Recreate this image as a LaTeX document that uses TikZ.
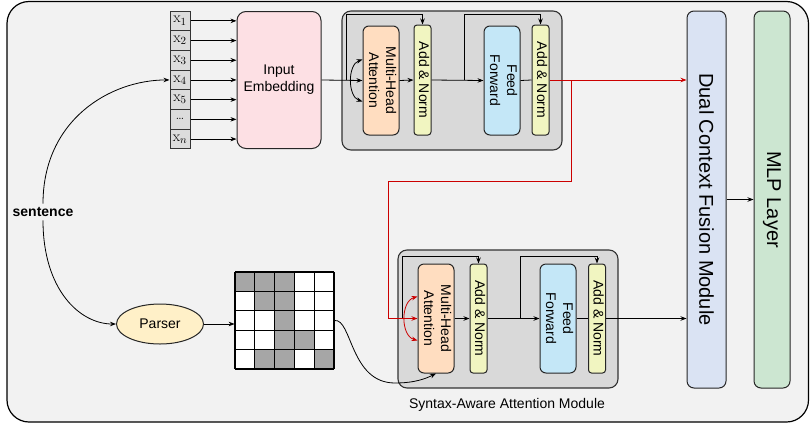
\documentclass[tikz,border=0pt]{standalone}
\usepackage{graphicx}
\usepackage{fontspec}
\newfontfamily\lsans{Liberation Sans}
\usetikzlibrary{arrows.meta,shapes.geometric,calc}

\definecolor{bgc}{HTML}{F2F2F2}
\definecolor{blockgray}{HTML}{D9D9D9}
\definecolor{tokgray}{HTML}{DCDCDC}
\definecolor{pinkc}{HTML}{FDE0E4}
\definecolor{peachc}{HTML}{FFDDC0}
\definecolor{ylwc}{HTML}{F1F5C1}
\definecolor{skyc}{HTML}{C4E7F7}
\definecolor{dcfc}{HTML}{DAE3F3}
\definecolor{mlpc}{HTML}{CCE6D1}
\definecolor{parserc}{HTML}{FFF0C8}
\definecolor{redc}{HTML}{CC0000}
\definecolor{cellgray}{HTML}{A6A6A6}

% rotated (top-to-bottom) text for the tall boxes
\newcommand\vtext[1]{\rotatebox{-90}{\begin{tabular}{@{}c@{}}#1\end{tabular}}}

\begin{document}
\begin{tikzpicture}[x=1pt,y=-1pt,
  >={Stealth[length=6pt,width=4.5pt]},
  every path/.style={line width=0.8pt},
  box/.style={draw=black!85, line width=1pt, rounded corners=6pt, inner sep=0pt,
    align=center, font=\lsans\fontsize{14}{17}\selectfont},
  thinbox/.style={box, rounded corners=3pt, fill=ylwc, minimum width=17, minimum height=110},
  gblock/.style={draw=black!80, fill=blockgray, line width=1.1pt, rounded corners=9pt, inner sep=0pt},
  tok/.style={draw=black!80, fill=tokgray, line width=1pt, minimum width=20,
    minimum height=19.7, inner sep=0pt, font=\fontsize{15}{15}\selectfont},
  cell/.style={fill=cellgray},
  lbl/.style={font=\lsans\fontsize{14}{17}\selectfont},
  rline/.style={draw=redc}]

\useasboundingbox (0,0) rectangle (810,426);
\draw[fill=bgc, line width=1.2pt, rounded corners=22pt] (7,1.5) rectangle (808.5,422);

% ---- input tokens ----
\foreach \i/\lab in {1/{$\mathrm{x}_1$},2/{$\mathrm{x}_2$},3/{$\mathrm{x}_3$},4/{$\mathrm{x}_4$},
                     5/{$\mathrm{x}_5$},6/{\dots},7/{$\mathrm{x}_n$}}
  \node[tok] (x\i) at (180,{11+19.7*(\i-0.5)}) {\lab};

\node[box, fill=pinkc, rounded corners=9pt, minimum width=84, minimum height=137] (ie) at (279,80) {Input\\Embedding};
\foreach \i in {1,...,7} \draw[->] (x\i.east) -- (x\i.east -| ie.west);

% ---- transformer encoder ----
\node[gblock, minimum width=220, minimum height=139] (enc) at (452,80.5) {};
\node[box, fill=peachc, minimum width=36, minimum height=109] (mha1) at (381,80.5) {\vtext{Multi-Head\\Attention}};
\node[thinbox] (an1a) at (422.5,80) {\vtext{Add \& Norm}};
\node[box, fill=skyc, minimum width=36, minimum height=109] (ff1) at (502,80.5) {\vtext{Feed\\Forward}};
\node[thinbox] (an1b) at (540.5,80) {\vtext{Add \& Norm}};

\coordinate (s1) at (346,80);
\coordinate (s2) at (464,80);
\draw[->] (ie.east) -- (mha1.west);
\draw[<->] ($(mha1.west)+(0,-21)$) .. controls +(-15,5) and +(-15,-5) .. ($(mha1.west)+(0,21)$);
\draw[->] (s1) |- ($(an1a.north)+(0,-10)$) -- (an1a.north);
\draw[->] (mha1.east) -- (an1a.west);
\draw[->] (an1a.east) -- (ff1.west);
\draw[->] (s2) |- ($(an1b.north)+(0,-10)$) -- (an1b.north);
\draw (ff1.east) -- (an1b.west);

% ---- fusion and output ----
\node[box, fill=dcfc, rounded corners=7pt, minimum width=39, minimum height=377] (dcf) at (706.5,199.5)
  {\rotatebox{-90}{\fontsize{20}{24}\selectfont Dual Context Fusion Module}};
\node[box, fill=mlpc, rounded corners=7pt, minimum width=36, minimum height=377] (mlp) at (772,199.5)
  {\rotatebox{-90}{\fontsize{20}{24}\selectfont MLP Layer}};
\draw[->] (dcf.east) -- (mlp.west);

% ---- sentence and parser ----
\node[font=\lsans\bfseries\fontsize{14}{17}\selectfont] (sent) at (43,212) {sentence};
\node[box, ellipse, fill=parserc, minimum width=87, minimum height=40] (parser) at (160,324) {Parser};
\draw[->] (sent.north) .. controls (43,120) and (110,80) .. (x4.west);
\draw[->] (sent.south) .. controls (43,290) and (80,324) .. (parser.west);

% dependency grid: 5x5 cells of 19.8 x 19.4, shaded where an arc exists
\node[minimum width=99, minimum height=97, inner sep=0pt] (grid) at (284.5,320.5) {};
\begin{scope}[shift={(235,272)}]
  \fill[white] (0,0) rectangle (99,97);
  % row 1
  \fill[cell] (0,0) rectangle (19.8,19.4);
  \fill[cell] (19.8,0) rectangle (39.6,19.4);
  \fill[cell] (39.6,0) rectangle (59.4,19.4);
  % row 2
  \fill[cell] (19.8,19.4) rectangle (39.6,38.8);
  \fill[cell] (39.6,19.4) rectangle (59.4,38.8);
  % row 3
  \fill[cell] (39.6,38.8) rectangle (59.4,58.2);
  % row 4
  \fill[cell] (39.6,58.2) rectangle (59.4,77.6);
  \fill[cell] (59.4,58.2) rectangle (79.2,77.6);
  % row 5
  \fill[cell] (19.8,77.6) rectangle (39.6,97);
  \fill[cell] (39.6,77.6) rectangle (59.4,97);
  \fill[cell] (79.2,77.6) rectangle (99,97);
  \foreach \k in {0,...,5} {
    \draw[line width=1.1pt] ({\k*19.8},0) -- ({\k*19.8},97);
    \draw[line width=1.1pt] (0,{\k*19.4}) -- (99,{\k*19.4});
  }
\end{scope}
\draw[->] (parser.east) -- (parser.east -| grid.west);

% ---- syntax-aware attention module ----
\node[gblock, minimum width=220, minimum height=138] (sam) at (508,319) {};
\node[box, fill=peachc, minimum width=36, minimum height=109] (mha2) at (436,318.5) {\vtext{Multi-Head\\Attention}};
\node[thinbox, minimum height=109] (an2a) at (478.5,318.5) {\vtext{Add \& Norm}};
\node[box, fill=skyc, minimum width=36, minimum height=109] (ff2) at (558,318.5) {\vtext{Feed\\Forward}};
\node[thinbox, minimum height=109] (an2b) at (597,318.5) {\vtext{Add \& Norm}};
\node[lbl] (samlabel) at (507,405) {Syntax-Aware Attention Module};

\coordinate (s3) at (402,318.5);
\coordinate (s4) at (520,318.5);
\draw[->] (s3) |- ($(an2a.north)+(0,-7)$) -- (an2a.north);
\draw[->] (mha2.east) -- (an2a.west);
\draw[->] (an2a.east) -- (ff2.west);
\draw[->] (s4) |- ($(an2b.north)+(0,-7)$) -- (an2b.north);
\draw (ff2.east) -- (an2b.west);
\draw[->] (an2b.east) -- (an2b.east -| dcf.west);

% grid feeds the attention as structure
\draw[->] (grid.east) .. controls (352,318) and (350,383) .. (395,383)
  .. controls +(20,0) and +(-10,5) .. (mha2.south);

% ---- red context path ----
\coordinate (r1) at (571,80);
\coordinate (rc) at (388,181);
\draw[->, rline] (an1b.east) -- (an1b.east -| dcf.west);
\draw[->, rline] (r1) |- (rc) |- (mha2.west);
\draw[<->, rline] ($(mha2.west)+(0,-22)$) .. controls +(-17,5) and +(-17,-5) .. ($(mha2.west)+(0,22)$);

\end{tikzpicture}
\end{document}
